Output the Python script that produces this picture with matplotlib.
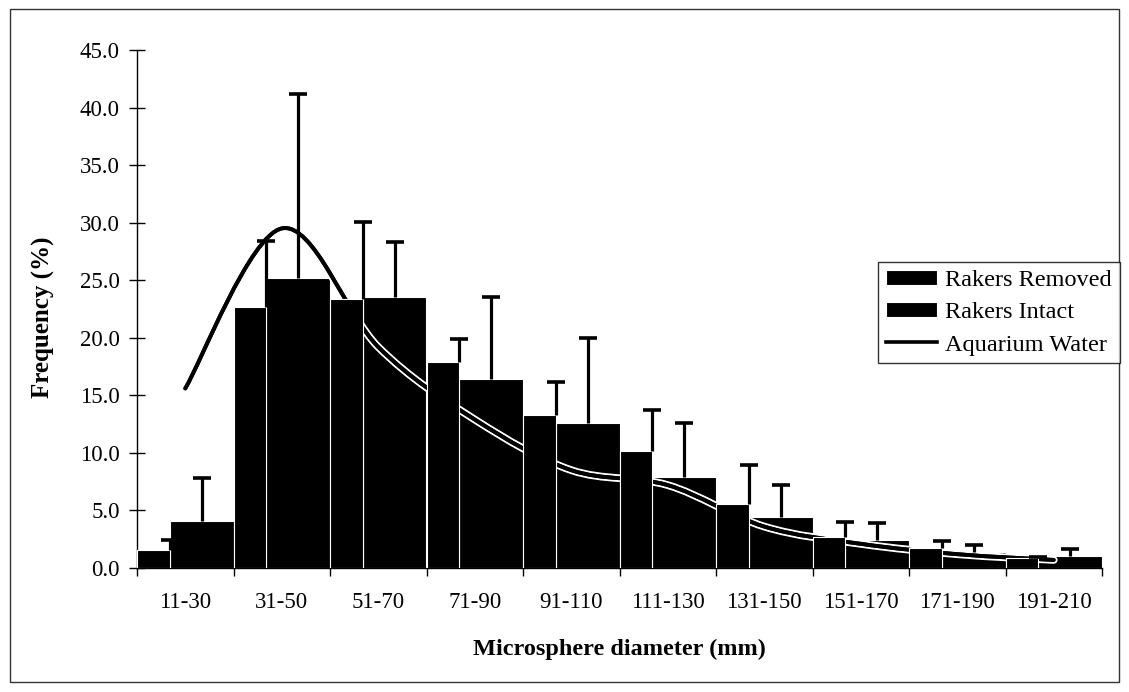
import numpy as np
import matplotlib
matplotlib.use('Agg')
import matplotlib.pyplot as plt
from matplotlib.path import Path
from matplotlib.patches import PathPatch, Rectangle
from matplotlib.lines import Line2D
import matplotlib.patheffects as pe

# data
categories = ['11-30', '31-50', '51-70', '71-90', '91-110',
              '111-130', '131-150', '151-170', '171-190', '191-210']
removed = [1.6, 22.7, 23.4, 17.9, 13.3, 10.2, 5.6, 2.7, 1.7, 0.9]
removed_err = [0.8, 5.7, 6.7, 2.0, 2.9, 3.5, 3.35, 1.3, 0.65, 0.05]
intact = [4.1, 25.2, 23.5, 16.4, 12.6, 7.9, 4.4, 2.4, 1.4, 1.0]
intact_err = [3.7, 16.0, 4.8, 7.1, 7.4, 4.7, 2.8, 1.5, 0.6, 0.65]
aquarium = [15.6, 29.5, 19.2, 12.9, 8.5, 7.2, 3.6, 2.1, 1.2, 0.7]

plt.rcParams['font.family'] = ['Liberation Serif', 'DejaVu Serif']

fig = plt.figure(figsize=(11.29, 6.92), dpi=100)
ax = fig.add_axes([137/1129, 1-568/692, (1102-137)/1129, (568-50)/692])

x = np.arange(len(categories))
zeros = np.zeros(len(categories))

ax.bar(x, removed, width=0.34, align='edge', color='black',
       edgecolor='white', linewidth=0.8, zorder=3)
ax.bar(x + 0.34, intact, width=0.66, align='edge', color='black',
       edgecolor='white', linewidth=0.8, zorder=1)

# upward-only error bars, no cap at the bar top
for xpos, vals, errs in [(x + 0.34, removed, removed_err), (x + 0.67, intact, intact_err)]:
    _, caps, _ = ax.errorbar(xpos, vals, yerr=[zeros, errs], fmt='none',
                             ecolor='black', elinewidth=2.3, capsize=6.5,
                             capthick=2.6, zorder=4)
    caps[0].set_visible(False)

# smoothed line (Excel style bezier through the points)
px = x + 0.5
py = np.array(aquarium)
n = len(px)
verts = [(px[0], py[0])]
codes = [Path.MOVETO]
for i in range(n - 1):
    i0 = max(i - 1, 0)
    i3 = min(i + 2, n - 1)
    c1 = (px[i] + (px[i+1] - px[i0]) / 6, py[i] + (py[i+1] - py[i0]) / 6)
    c2 = (px[i+1] - (px[i3] - px[i]) / 6, py[i+1] - (py[i3] - py[i]) / 6)
    verts += [c1, c2, (px[i+1], py[i+1])]
    codes += [Path.CURVE4] * 3
curve = PathPatch(Path(verts, codes), facecolor='none', edgecolor='black',
                  linewidth=2.8, zorder=2, capstyle='round')
curve.set_path_effects([pe.withStroke(linewidth=5.6, foreground='white'), pe.Normal()])
ax.add_patch(curve)

ax.set_xlim(0, 10)
ax.set_ylim(0, 45)
ax.set_yticks(np.arange(0, 45.1, 5))
ax.set_yticklabels(['%.1f' % v for v in np.arange(0, 45.1, 5)])
ax.set_xticks(np.arange(0, 11))
ax.set_xticklabels([])
ax.set_xticks(x + 0.5, minor=True)
ax.set_xticklabels(categories, minor=True)

ax.tick_params(axis='y', direction='inout', length=11, width=1, pad=7, labelsize=16.5)
ax.tick_params(axis='x', which='major', direction='out', length=6, width=1)
ax.tick_params(axis='x', which='minor', length=0, pad=17, labelsize=16.5)

for s in ['top', 'right']:
    ax.spines[s].set_visible(False)
ax.spines['left'].set_linewidth(1)
ax.spines['bottom'].set_linewidth(1)

fig.text(619/1129, 1-649/692, 'Microsphere diameter (mm)', ha='center', va='center',
         fontsize=17.5, fontweight='bold')
fig.text(43/1129, 1-317/692, 'Frequency (%)', ha='center', va='center',
         rotation=90, fontsize=18, fontweight='bold')

handles = [Rectangle((0, 0), 1, 1, facecolor='black', edgecolor='white', lw=0.8),
           Rectangle((0, 0), 1, 1, facecolor='black', edgecolor='white', lw=0.8),
           Line2D([], [], color='black', lw=2.6)]
leg = fig.legend(handles, ['Rakers Removed', 'Rakers Intact', 'Aquarium Water'],
                 loc='upper left', bbox_to_anchor=(878/1129, 1-262/692),
                 fontsize=17.5, frameon=True, fancybox=False, handlelength=2.1,
                 handleheight=0.6, handletextpad=0.35, borderpad=0.32,
                 labelspacing=0.45, borderaxespad=0)
leg.get_frame().set_edgecolor('black')
leg.get_frame().set_linewidth(1)

fig.patches.append(Rectangle((10/1129, 1-682/692), (1119-10)/1129, (682-9)/692,
                             transform=fig.transFigure, fill=False,
                             edgecolor='#333333', linewidth=1))

fig.savefig('out.png', dpi=100)
